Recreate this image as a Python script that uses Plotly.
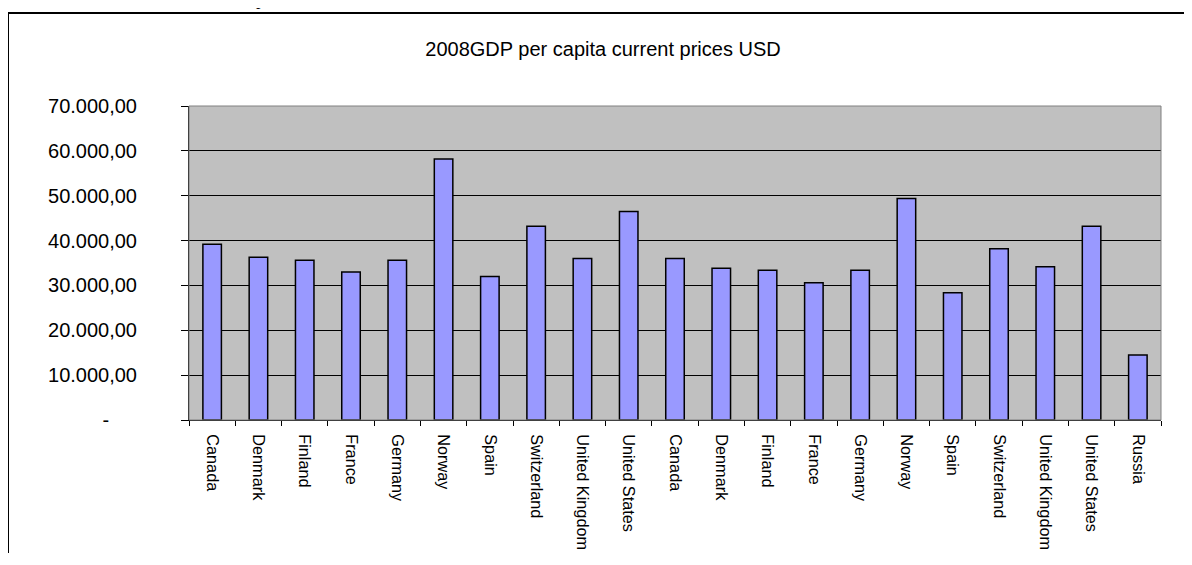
import plotly.graph_objects as go

title_text = "2008GDP per capita current prices USD"
countries = ["Canada", "Denmark", "Finland", "France", "Germany", "Norway", "Spain",
             "Switzerland", "United Kingdom", "United States",
             "Canada", "Denmark", "Finland", "France", "Germany", "Norway", "Spain",
             "Switzerland", "United Kingdom", "United States", "Russia"]
gdp_values = [39200, 36300, 35600, 33000, 35600, 58200, 32000, 43200, 36000, 46500,
              36000, 33850, 33400, 30600, 33400, 49400, 28350, 38200, 34150, 43200, 14500]
y_tick_values = [0, 10000, 20000, 30000, 40000, 50000, 60000, 70000]
y_tick_labels = ["-" + "\u00a0" * 5, "10.000,00", "20.000,00", "30.000,00", "40.000,00",
                 "50.000,00", "60.000,00", "70.000,00"]

n = len(countries)
positions = list(range(n))
boundaries = [i - 0.5 for i in range(n + 1)]

font_family = "Liberation Sans, Arial, sans-serif"

# the page body adds an 8px margin on every side
W, H = 1176, 545
L, T, PW, PH = 181, 98, 972, 314

fig = go.Figure()
fig.add_trace(go.Bar(
    x=positions, y=gdp_values, width=0.4,
    marker=dict(color="#9999FF", line=dict(color="black", width=1.5)),
    hoverinfo="skip", showlegend=False,
))
# invisible trace to anchor the tick-mark axis
fig.add_trace(go.Scatter(x=[positions[0]], y=[0], xaxis="x2", mode="markers",
                         marker=dict(opacity=0), showlegend=False, hoverinfo="skip"))

fig.update_layout(
    width=W, height=H,
    margin=dict(l=L, r=W - L - PW, t=T, b=H - T - PH, autoexpand=False),
    paper_bgcolor="white",
    plot_bgcolor="#C0C0C0",
    font=dict(family=font_family, color="black"),
    title=dict(text=title_text, x=(603 - 8) / W, xanchor="center", y=1 - 41 / H, yanchor="middle",
               font=dict(size=20, family=font_family, color="black")),
    xaxis=dict(range=[-0.5, n - 0.5], tickmode="array", tickvals=positions, ticktext=countries,
               tickangle=90, ticks="", showgrid=False, zeroline=False, automargin=False,
               showline=True, linecolor="black", linewidth=1, mirror=False,
               tickfont=dict(size=16.3), ticklabelstandoff=10),
    xaxis2=dict(range=[-0.5, n - 0.5], overlaying="x", anchor="y", side="bottom",
                tickmode="array", tickvals=boundaries, ticks="outside", ticklen=5,
                tickcolor="black", showticklabels=False, showgrid=False, zeroline=False,
                showline=False, automargin=False),
    yaxis=dict(range=[0, 70000], tickmode="array", tickvals=y_tick_values, ticktext=y_tick_labels,
               ticks="outside", ticklen=7, tickcolor="black", automargin=False,
               showgrid=True, gridcolor="black", gridwidth=1, zeroline=False,
               showline=True, linecolor="black", linewidth=1,
               tickfont=dict(size=20), ticklabelstandoff=40),
    bargap=0.6,
)

# plot-area border (top and right, gray)
fig.add_shape(type="rect", xref="x domain", yref="y domain", x0=0, x1=1, y0=0, y1=1,
              line=dict(color="#808080", width=1), fillcolor="rgba(0,0,0,0)", layer="above")
# outer chart frame: only its top and left edges are visible in the page
frame_x0 = (8 - 8 - L) / PW
frame_y1 = (PH + T - 5) / PH
fig.add_shape(type="line", xref="paper", yref="paper", x0=frame_x0, x1=1.3, y0=frame_y1, y1=frame_y1,
              line=dict(color="black", width=2), layer="below")
fig.add_shape(type="line", xref="paper", yref="paper", x0=frame_x0, x1=frame_x0, y0=-0.8, y1=frame_y1,
              line=dict(color="black", width=2), layer="below")
# cropped text fragment at very top of the page
fig.add_annotation(text="p", xref="paper", yref="paper", x=(260 - 8 - L) / PW,
                   y=(PH + T - 3) / PH, yanchor="bottom", xanchor="center", showarrow=False,
                   font=dict(family="Liberation Serif, Times New Roman, serif", size=18, color="black"))

fig.write_html("out.html")
